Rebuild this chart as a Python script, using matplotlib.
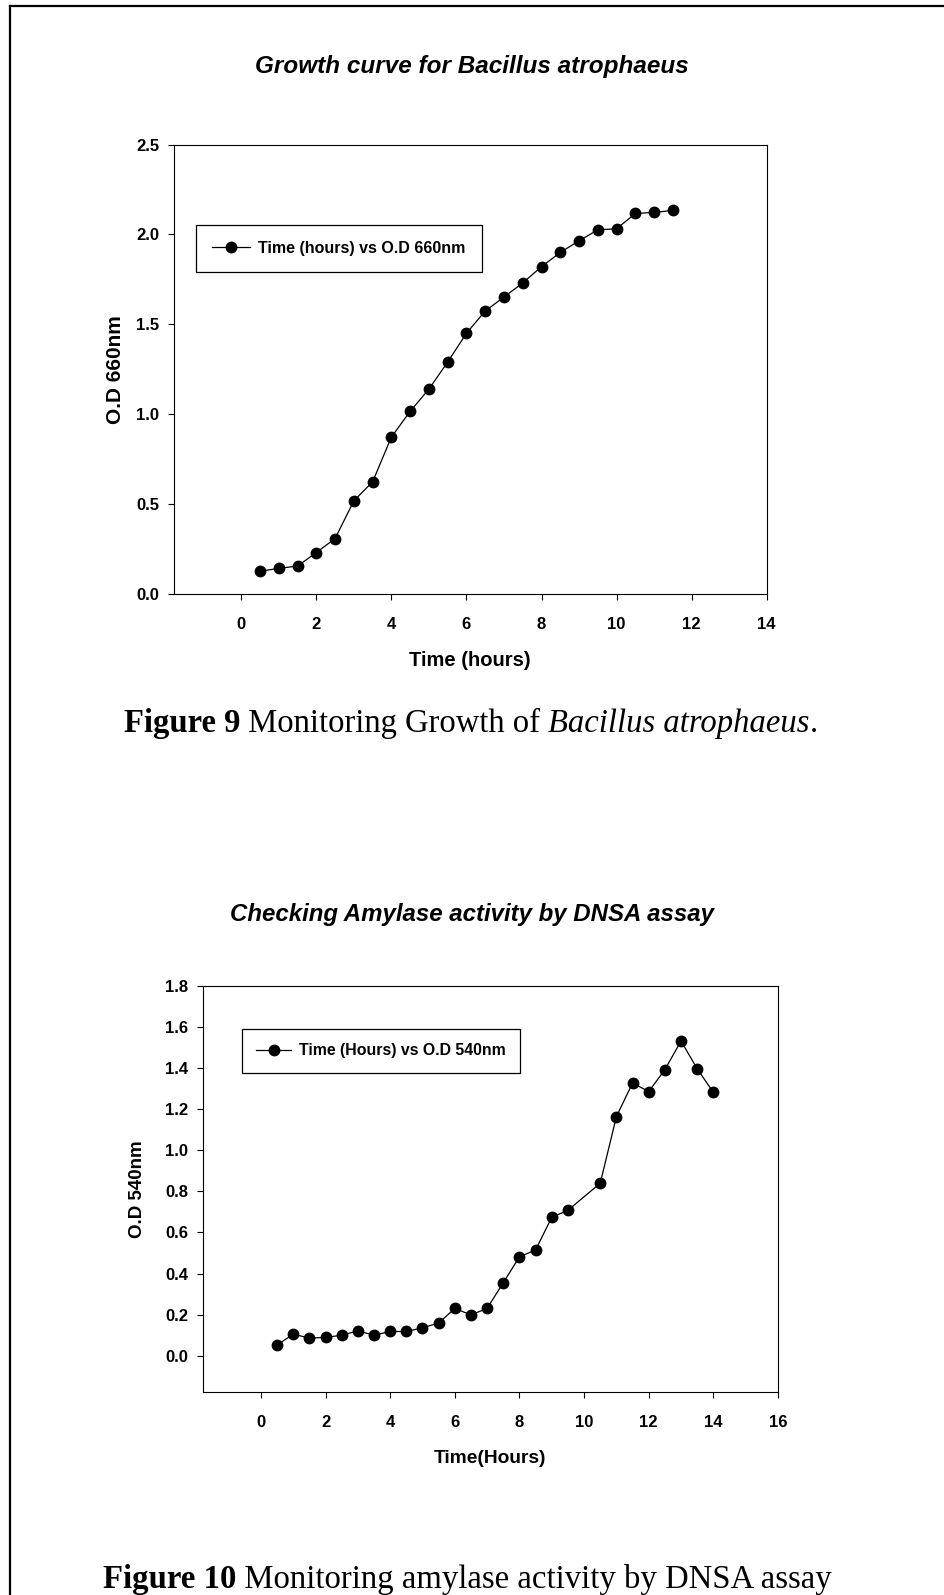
import numpy as np
import matplotlib
matplotlib.use('Agg')
import matplotlib.pyplot as plt
from matplotlib.lines import Line2D

plt.rcParams['font.family'] = ['Liberation Sans', 'DejaVu Sans']

# growth curve (figure 9)
growth_time = [0.5, 1.0, 1.5, 2.0, 2.5, 3.0, 3.5, 4.0, 4.5, 5.0, 5.5, 6.0,
               6.5, 7.0, 7.5, 8.0, 8.5, 9.0, 9.5, 10.0, 10.5, 11.0, 11.5]
growth_od = [0.125, 0.141, 0.154, 0.229, 0.307, 0.517, 0.623, 0.872, 1.015, 1.139, 1.29, 1.45,
             1.574, 1.652, 1.730, 1.821, 1.90, 1.965, 2.026, 2.032, 2.117, 2.123, 2.134]

# amylase activity (figure 10)
dnsa_time = [0.5, 1.0, 1.5, 2.0, 2.5, 3.0, 3.5, 4.0, 4.5, 5.0, 5.5, 6.0, 6.5, 7.0,
             7.5, 8.0, 8.5, 9.0, 9.5, 10.5, 11.0, 11.5, 12.0, 12.5, 13.0, 13.5, 14.0]
dnsa_od = [0.052, 0.105, 0.086, 0.089, 0.100, 0.121, 0.100, 0.118, 0.118, 0.136, 0.159, 0.230,
           0.199, 0.230, 0.356, 0.481, 0.515, 0.674, 0.708, 0.840, 1.164, 1.328, 1.286,
           1.393, 1.532, 1.397, 1.282]

top_yticks = [0.0, 0.5, 1.0, 1.5, 2.0, 2.5]
top_xticks = [0, 2, 4, 6, 8, 10, 12, 14]
bottom_yticks = [0.0, 0.2, 0.4, 0.6, 0.8, 1.0, 1.2, 1.4, 1.6, 1.8]
bottom_xticks = [0, 2, 4, 6, 8, 10, 12, 14, 16]

W, H = 944, 1595
fig = plt.figure(figsize=(W / 100, H / 100), dpi=100)


def px_box(left, top, right, bottom):
    return [left / W, 1 - bottom / H, (right - left) / W, (bottom - top) / H]


def setup_axes(ax, xticks, yticks, xlim, ylim, fmt):
    ax.set_xlim(xlim)
    ax.set_ylim(ylim)
    ax.set_xticks(xticks)
    ax.set_xticklabels([str(t) for t in xticks])
    ax.set_yticks(yticks)
    ax.set_yticklabels([fmt % t for t in yticks])
    ax.tick_params(direction='out', length=4.5, width=0.8, labelsize=12, pad=12,
                   top=False, right=False)
    ax.tick_params(axis='y', pad=6)
    for lab in ax.get_xticklabels() + ax.get_yticklabels():
        lab.set_fontweight('bold')
    for sp in ax.spines.values():
        sp.set_linewidth(0.8)


# top chart
ax1 = fig.add_axes(px_box(173.7, 144.7, 766.7, 593.7))
ax1.plot(growth_time, growth_od, '-o', color='black', lw=0.9, ms=7.5,
         label='Time (hours) vs O.D 660nm')
setup_axes(ax1, top_xticks, top_yticks, (-1.8, 14), (0, 2.5), '%.1f')
ax1.set_xlabel('Time (hours)', fontsize=14.5, fontweight='bold', labelpad=14)
ax1.set_ylabel('O.D 660nm', fontsize=15, fontweight='bold', labelpad=8)
fig.text(0.5, 1 - 67 / H, 'Growth curve for Bacillus atrophaeus', ha='center', va='center',
         fontsize=17.5, fontweight='bold', fontstyle='italic')
leg1 = ax1.legend(loc='upper left', bbox_to_anchor=(196 / W, 1 - 225 / H),
                  bbox_transform=fig.transFigure, fancybox=False, edgecolor='black',
                  framealpha=1, borderpad=1.0, borderaxespad=0, handlelength=2.4,
                  handletextpad=0.5, prop={'weight': 'bold', 'size': 11.5})
leg1.get_frame().set_linewidth(0.9)

# bottom chart
ax2 = fig.add_axes(px_box(202.7, 986, 778, 1392.3))
ax2.plot(dnsa_time, dnsa_od, '-o', color='black', lw=0.9, ms=7.5,
         label='Time (Hours) vs O.D 540nm')
setup_axes(ax2, bottom_xticks, bottom_yticks, (-1.8, 16), (-0.178, 1.8), '%.1f')
ax2.set_xlabel('Time(Hours)', fontsize=13.8, fontweight='bold', labelpad=14)
ax2.set_ylabel('O.D 540nm', fontsize=13.5, fontweight='bold', labelpad=14)
fig.text(0.5, 1 - 915 / H, 'Checking Amylase activity by DNSA assay', ha='center', va='center',
         fontsize=17.3, fontweight='bold', fontstyle='italic')
leg2 = ax2.legend(loc='upper left', bbox_to_anchor=(242 / W, 1 - 1029 / H),
                  bbox_transform=fig.transFigure, fancybox=False, edgecolor='black',
                  framealpha=1, borderpad=0.9, borderaxespad=0, handlelength=2.2,
                  handletextpad=0.5, prop={'weight': 'bold', 'size': 11.4})
leg2.get_frame().set_linewidth(0.9)


def rich_caption(x, y, parts, size):
    # parts: list of (text, weight, style), drawn one after another
    fig.canvas.draw()
    renderer = fig.canvas.get_renderer()
    for text, weight, style in parts:
        t = fig.text(x / W, 1 - y / H, text, ha='left', va='baseline', fontsize=size,
                     family='Liberation Serif', fontweight=weight, fontstyle=style)
        bb = t.get_window_extent(renderer)
        x += bb.width


rich_caption(124, 732, [('Figure 9', 'bold', 'normal'), (' Monitoring Growth of ', 'normal', 'normal'),
                        ('Bacillus atrophaeus', 'normal', 'italic'), ('.', 'normal', 'normal')], 23.5)
rich_caption(103, 1588, [('Figure 10', 'bold', 'normal'),
                         (' Monitoring amylase activity by DNSA assay', 'normal', 'normal')], 23.6)

# page frame (only top and left edges are inside the image)
fig.add_artist(Line2D([9.7 / W, 9.7 / W], [0, 1 - 5.7 / H], transform=fig.transFigure,
                      color='black', lw=1.6))
fig.add_artist(Line2D([9.7 / W, 1], [1 - 5.7 / H, 1 - 5.7 / H], transform=fig.transFigure,
                      color='black', lw=1.6))

fig.savefig('out.png', dpi=100)
